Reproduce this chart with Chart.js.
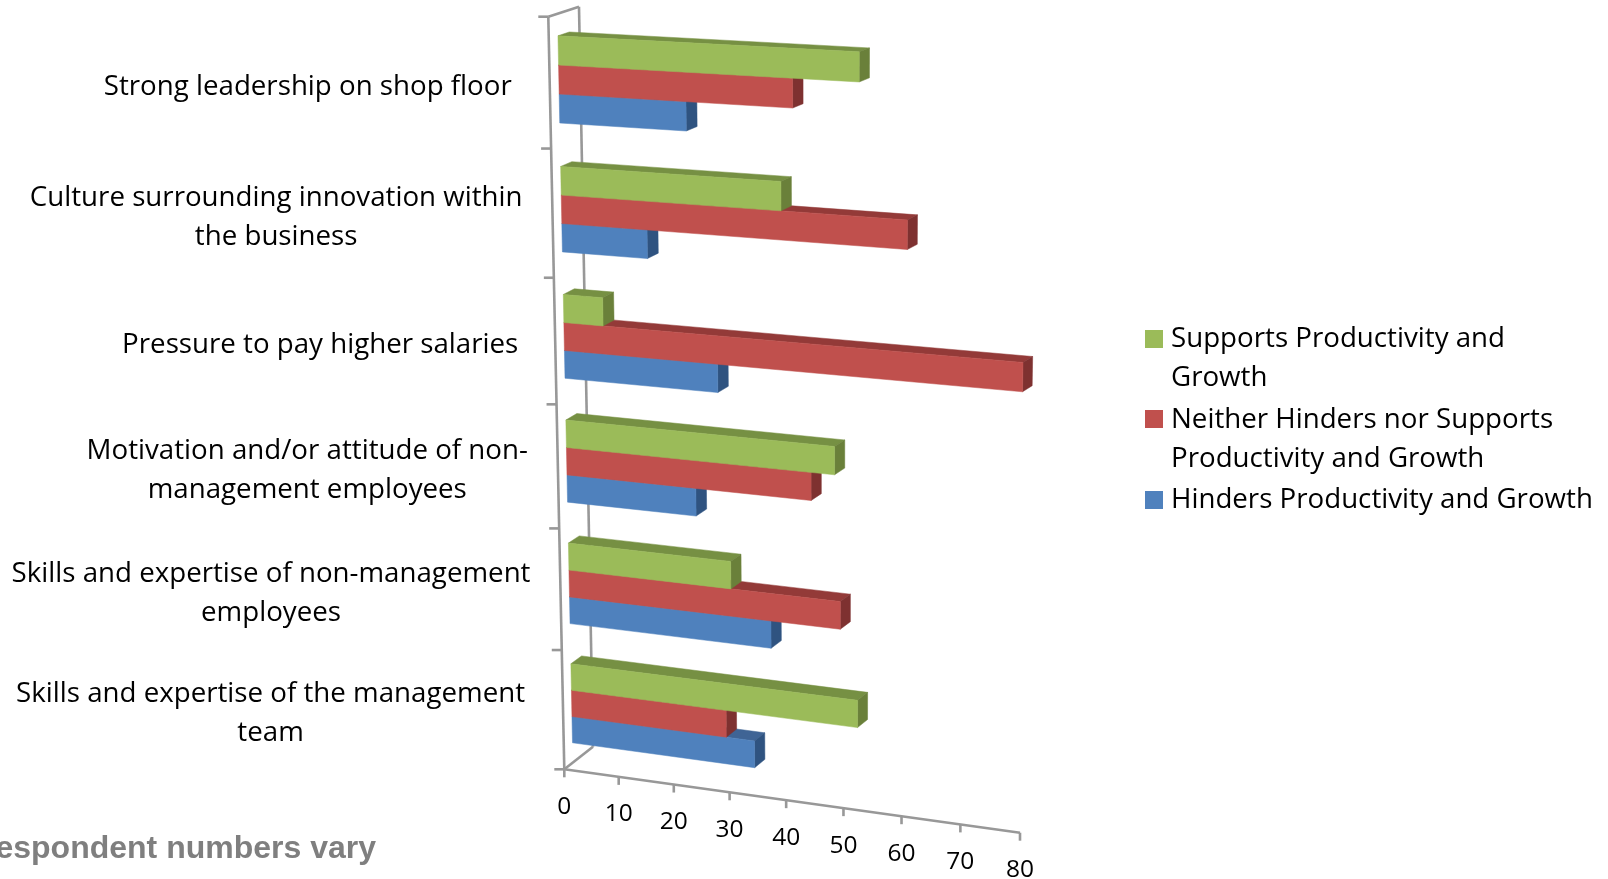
<!DOCTYPE html>
<html lang="en">
<head>
  <meta charset="UTF-8">
  <title>Productivity and Growth</title>
  <style>
    * { margin: 0; padding: 0; box-sizing: border-box; }
    body { background: #fff; overflow: hidden; }
    canvas { display: block; }
  </style>
  <script src="https://cdn.jsdelivr.net/npm/chart.js"></script>
</head>
<body>
  <canvas id="chart" width="1608" height="879"></canvas>

  <script>
    // top to bottom, as in the picture
    const categories = [
      ['Strong leadership on shop floor'],
      ['Culture surrounding innovation within', 'the business'],
      ['Pressure to pay higher salaries'],
      ['Motivation and/or attitude of non-', 'management employees'],
      ['Skills and expertise of non-management', 'employees'],
      ['Skills and expertise of the management', 'team']
    ];
    const supports = [51, 38, 7, 47, 29, 51];
    const neither = [40, 59, 78, 43, 48, 28];
    const hinders = [22, 15, 27, 23, 36, 33];
    const supportsLines = ['Supports Productivity and', 'Growth'];
    const neitherLines = ['Neither Hinders nor Supports', 'Productivity and Growth'];
    const hindersLines = ['Hinders Productivity and Growth'];
    const footnote = 'Respondent numbers vary';

    const FONT = '27.7px "Open Sans"';
    const TICK_FONT = '24.5px "Open Sans"';
    const GRAY = '#989898';
    // the label boxes do not all stop the same distance from the axis
    const LABEL_GAPS = [38, 30, 37, 30, 30, 38];

    // face colours: front, top, side
    const faces = [
      { front: '#9bbb59', top: '#769043', side: '#6a803a' },
      { front: '#c0504d', top: '#933a38', side: '#7e3130' },
      { front: '#4f81bd', top: '#3f6495', side: '#2f5380' }
    ];

    // the plot box as it lands on screen: tl, tr, br, bl
    const frontWall = homography([548.3, 16.7], [1033, 41], [1020, 832.7], [564.3, 769.3]);
    const backWall = homography([579, 6.7], [1059, 31], [1046, 809.7], [593, 746.7]);
    const BAR_FRONT = 0.3;
    const BAR_BACK = 0.67;

    function homography(p0, p1, p2, p3) {
      const dx1 = p1[0] - p2[0], dx2 = p3[0] - p2[0], dx3 = p0[0] - p1[0] + p2[0] - p3[0];
      const dy1 = p1[1] - p2[1], dy2 = p3[1] - p2[1], dy3 = p0[1] - p1[1] + p2[1] - p3[1];
      const den = dx1 * dy2 - dx2 * dy1;
      const g = (dx3 * dy2 - dx2 * dy3) / den;
      const h = (dx1 * dy3 - dx3 * dy1) / den;
      const a = p1[0] - p0[0] + g * p1[0], b = p3[0] - p0[0] + h * p3[0];
      const d = p1[1] - p0[1] + g * p1[1], e = p3[1] - p0[1] + h * p3[1];
      return (u, v) => {
        const w = g * u + h * v + 1;
        return [(a * u + b * v + p0[0]) / w, (d * u + e * v + p0[1]) / w];
      };
    }

    // chart pixel + depth -> screen
    function project(chart, px, py, depth) {
      const area = chart.chartArea;
      const u = (px - area.left) / area.width;
      const v = (py - area.top) / area.height;
      const f = frontWall(u, v), b = backWall(u, v);
      return [f[0] + (b[0] - f[0]) * depth, f[1] + (b[1] - f[1]) * depth];
    }

    function poly(ctx, points, color) {
      ctx.fillStyle = color;
      ctx.beginPath();
      points.forEach((p, i) => i ? ctx.lineTo(p[0], p[1]) : ctx.moveTo(p[0], p[1]));
      ctx.closePath();
      ctx.fill();
      ctx.strokeStyle = color;
      ctx.lineWidth = 0.5;
      ctx.stroke();
    }

    function line(ctx, a, b) {
      ctx.beginPath();
      ctx.moveTo(a[0], a[1]);
      ctx.lineTo(b[0], b[1]);
      ctx.stroke();
    }

    const walls = {
      id: 'walls',
      beforeDatasetsDraw(chart) {
        const ctx = chart.ctx, { left, right, top, bottom } = chart.chartArea;
        const xScale = chart.scales.x, yScale = chart.scales.y;
        ctx.save();
        ctx.strokeStyle = GRAY;
        ctx.lineWidth = 2.6;
        line(ctx, project(chart, left, top, 0), project(chart, left, bottom, 0));
        line(ctx, project(chart, left, top, 1), project(chart, left, bottom, 1));
        line(ctx, project(chart, left, top, 0), project(chart, left, top, 1));
        line(ctx, project(chart, left, bottom, 0), project(chart, left, bottom, 1));
        line(ctx, project(chart, left, bottom, 0), project(chart, right, bottom, 0));

        // category boundaries
        for (let i = 0; i <= categories.length; i++) {
          const p = project(chart, left, top + (bottom - top) * i / categories.length, 0);
          line(ctx, p, [p[0] - 10, p[1]]);
        }
        // value ticks and labels
        ctx.font = TICK_FONT;
        ctx.textAlign = 'center';
        ctx.textBaseline = 'middle';
        xScale.ticks.forEach(t => {
          const p = project(chart, xScale.getPixelForValue(t.value), bottom, 0);
          line(ctx, p, [p[0], p[1] + 8]);
          ctx.fillStyle = '#000';
          ctx.fillText(t.label, p[0], p[1] + 37.5);
        });

        // category labels, centred in a box that ends short of the axis
        ctx.font = FONT;
        categories.forEach((lines, i) => {
          const p = project(chart, left, yScale.getPixelForValue(i), 0);
          const w = Math.max(...lines.map(l => ctx.measureText(l).width));
          const cx = p[0] - LABEL_GAPS[i] - w / 2;
          lines.forEach((l, j) => {
            ctx.fillText(l, cx, p[1] + 4 + (j - (lines.length - 1) / 2) * 39);
          });
        });
        ctx.restore();

        // 3D bars, lower bar of each group first so the upper one covers its top
        for (let d = chart.data.datasets.length - 1; d >= 0; d--) {
          const meta = chart.getDatasetMeta(d);
          const c = faces[d];
          meta.data.forEach(bar => {
            const y0 = bar.y - bar.height / 2, y1 = bar.y + bar.height / 2;
            const tlf = project(chart, bar.base, y0, BAR_FRONT);
            const trf = project(chart, bar.x, y0, BAR_FRONT);
            const brf = project(chart, bar.x, y1, BAR_FRONT);
            const blf = project(chart, bar.base, y1, BAR_FRONT);
            const tlb = project(chart, bar.base, y0, BAR_BACK);
            const trb = project(chart, bar.x, y0, BAR_BACK);
            const brb = project(chart, bar.x, y1, BAR_BACK);
            poly(ctx, [tlf, trf, trb, tlb], c.top);
            poly(ctx, [trf, brf, brb, trb], c.side);
            poly(ctx, [tlf, trf, brf, blf], c.front);
          });
        }

        // legend
        ctx.save();
        ctx.font = FONT;
        ctx.textAlign = 'left';
        ctx.textBaseline = 'middle';
        [[supportsLines, 330, 339.5], [neitherLines, 410, 420.5], [hindersLines, 491, 500]].forEach((item, i) => {
          ctx.fillStyle = faces[i].front;
          ctx.fillRect(1145, item[1], 18, 18);
          ctx.fillStyle = '#000';
          item[0].forEach((l, j) => ctx.fillText(l, 1171, item[2] + j * 39));
        });
        // footnote runs off the left edge
        ctx.font = 'bold 32px "Liberation Sans"';
        ctx.textAlign = 'right';
        ctx.textBaseline = 'alphabetic';
        ctx.fillStyle = '#7f7f7f';
        ctx.fillText(footnote, 376, 858);
        ctx.restore();
        return false;
      }
    };

    new Chart(document.getElementById('chart').getContext('2d'), {
      type: 'bar',
      data: {
        labels: categories.map(c => c.join(' ')),
        datasets: [
          { label: supportsLines.join(' '), data: supports, backgroundColor: faces[0].front },
          { label: neitherLines.join(' '), data: neither, backgroundColor: faces[1].front },
          { label: hindersLines.join(' '), data: hinders, backgroundColor: faces[2].front }
        ]
      },
      options: {
        indexAxis: 'y',
        responsive: false,
        animation: false,
        categoryPercentage: 0.665,
        barPercentage: 1,
        layout: { padding: 0 },
        plugins: { legend: { display: false }, tooltip: { enabled: false } },
        scales: {
          x: { display: false, min: 0, max: 80, ticks: { stepSize: 10 } },
          y: { display: false }
        }
      },
      plugins: [walls]
    });
  </script>
</body>
</html>
